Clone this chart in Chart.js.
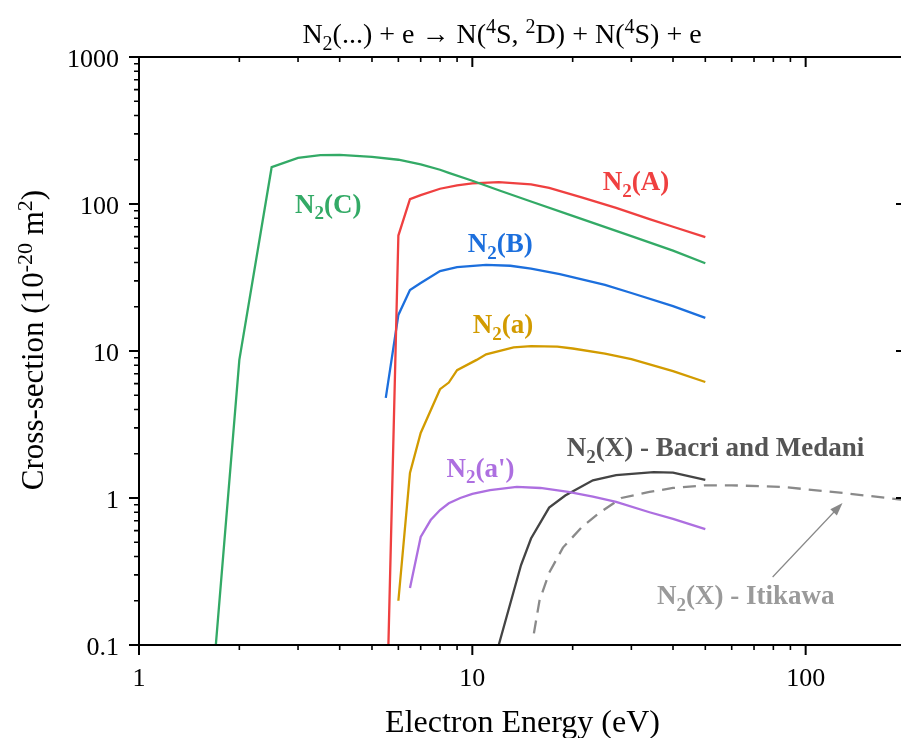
<!DOCTYPE html>
<html>
<head>
<meta charset="utf-8">
<script src="https://cdn.jsdelivr.net/npm/chart.js@4.4.1/dist/chart.umd.min.js"></script>
<style>
    html, body { margin: 0; padding: 0; overflow: hidden; background: #fff; }
    #wrap { width: 910px; height: 738px; }
</style>
</head>
<body>
<div id="wrap"><canvas id="xs-chart" width="910" height="738"></canvas></div>
<script>
// values (energy in eV, cross-section in 1e-20 m^2)
const energyC = [1.7, 2, 2.5, 3, 3.5, 4, 5, 6, 7, 8, 8.5, 10, 12, 15, 20, 30, 40, 50];
const sigmaC = [0.1, 8.7, 178, 206, 215, 216, 209, 200, 186, 171, 163, 144, 124, 104, 83, 60.4, 48.2, 39.5];

const energyA = [5.6, 6, 6.5, 7, 8, 9, 10, 12, 15, 17, 21.4, 27, 34, 40, 50];
const sigmaA = [0.1, 61, 108, 115, 127, 134, 138, 141, 136, 128.5, 110.6, 94, 79, 70, 59.5];

const energyB = [5.5, 6, 6.5, 7, 8, 9, 11, 13, 15, 18.3, 25, 30, 40, 50];
const sigmaB = [4.8, 17.6, 26, 29, 35, 37.2, 38.5, 38, 36.3, 33.4, 28.2, 24.8, 20.2, 16.8];

const energyLa = [6, 6.5, 7, 8, 8.5, 9, 10.3, 11, 13.3, 15, 18, 20, 25, 30, 40, 50];
const sigmaLa = [0.2, 1.48, 2.77, 5.5, 6.1, 7.4, 8.7, 9.5, 10.6, 10.8, 10.7, 10.4, 9.6, 8.8, 7.3, 6.15];

const energyLap = [6.5, 7, 7.5, 8, 8.5, 9.2, 10, 11.3, 13.6, 16, 19.4, 23, 27, 34, 40, 50];
const sigmaLap = [0.244, 0.543, 0.708, 0.828, 0.92, 1.0, 1.065, 1.13, 1.19, 1.17, 1.10, 1.02, 0.94, 0.80, 0.72, 0.615];

const energyXb = [12, 14, 15, 17, 19, 23, 27, 35, 40, 50];
const sigmaXb = [0.1, 0.35, 0.53, 0.86, 1.04, 1.32, 1.43, 1.50, 1.49, 1.33];

const energyXi = [15.3, 15.9, 17, 18.7, 21.4, 24, 28, 34, 40, 50, 60, 85, 130, 190, 200];
const sigmaXi = [0.12, 0.2, 0.31, 0.46, 0.64, 0.79, 1.0, 1.1, 1.17, 1.22, 1.22, 1.19, 1.08, 0.98, 0.97];

const xTickLabels = [1, 10, 100];
const yTickLabels = [0.1, 1, 10, 100, 1000];

const FONT = "'Liberation Serif', 'Times New Roman', serif";

(function () {
    const labelNotes = [
        { parts: [['N'], ['2', 'sub'], ['(C)']], e: 2.94, s: 87, color: '#33aa66' },
        { parts: [['N'], ['2', 'sub'], ['(A)']], e: 24.6, s: 124, color: '#ef4040' },
        { parts: [['N'], ['2', 'sub'], ['(B)']], e: 9.69, s: 47, color: '#1c6fdd' },
        { parts: [['N'], ['2', 'sub'], ['(a)']], e: 10.03, s: 13.2, color: '#d29b00' },
        { parts: [['N'], ['2', 'sub'], ["(a')"]], e: 8.37, s: 1.39, color: '#ad6fe0' },
        { parts: [['N'], ['2', 'sub'], ['(X) - Bacri and Medani']], e: 19.2, s: 1.93, color: '#555555' },
        { parts: [['N'], ['2', 'sub'], ['(X) - Itikawa']], e: 35.8, s: 0.19, color: '#9a9a9a' },
    ];

    const arrowNote = { from: [79.6, 0.29], to: [129, 0.925], color: '#888888' };

    const framePlugin = {
        id: 'frame',
        afterDraw(chart) {
            const ctx = chart.ctx;
            const a = chart.chartArea;
            const xs = chart.scales.x;
            const ys = chart.scales.y;

            ctx.save();
            ctx.textAlign = 'left';
            ctx.textBaseline = 'alphabetic';

            // annotations
            labelNotes.forEach((n) => {
                ctx.fillStyle = n.color;
                drawRich(ctx, n.parts, xs.getPixelForValue(n.e), ys.getPixelForValue(n.s), 27, 'bold', 'left');
            });

            // arrow to the Itikawa curve
            const x0 = xs.getPixelForValue(arrowNote.from[0]);
            const y0 = ys.getPixelForValue(arrowNote.from[1]);
            const x1 = xs.getPixelForValue(arrowNote.to[0]);
            const y1 = ys.getPixelForValue(arrowNote.to[1]);
            const ang = Math.atan2(y1 - y0, x1 - x0);
            ctx.strokeStyle = arrowNote.color;
            ctx.fillStyle = arrowNote.color;
            ctx.lineWidth = 1.2;
            ctx.beginPath();
            ctx.moveTo(x0, y0);
            ctx.lineTo(x1 - 10 * Math.cos(ang), y1 - 10 * Math.sin(ang));
            ctx.stroke();
            ctx.beginPath();
            ctx.moveTo(x1, y1);
            ctx.lineTo(x1 - 13 * Math.cos(ang) + 4.5 * Math.sin(ang), y1 - 13 * Math.sin(ang) - 4.5 * Math.cos(ang));
            ctx.lineTo(x1 - 13 * Math.cos(ang) - 4.5 * Math.sin(ang), y1 - 13 * Math.sin(ang) + 4.5 * Math.cos(ang));
            ctx.closePath();
            ctx.fill();

            // frame
            ctx.strokeStyle = '#000';
            ctx.lineWidth = 2;
            ctx.strokeRect(a.left, a.top, a.right - a.left, a.bottom - a.top);

            // ticks: outward on left/bottom, inward on top/right
            const xMinor = minorValues([1, 10, 100], 200);
            const yMinor = minorValues([0.1, 1, 10, 100], 1000);
            const xtick = (vals, len, width) => {
                ctx.lineWidth = width;
                ctx.beginPath();
                vals.forEach((v) => {
                    const px = xs.getPixelForValue(v);
                    ctx.moveTo(px, a.bottom); ctx.lineTo(px, a.bottom + len);
                    ctx.moveTo(px, a.top); ctx.lineTo(px, a.top + len);
                });
                ctx.stroke();
            };
            const ytick = (vals, len, width) => {
                ctx.lineWidth = width;
                ctx.beginPath();
                vals.forEach((v) => {
                    const py = ys.getPixelForValue(v);
                    ctx.moveTo(a.left, py); ctx.lineTo(a.left - len, py);
                    ctx.moveTo(a.right, py); ctx.lineTo(a.right - len, py);
                });
                ctx.stroke();
            };
            xtick(xTickLabels, 10, 2);
            xtick(xMinor, 5, 1.6);
            ytick(yTickLabels, 10, 2);
            ytick(yMinor, 5, 1.6);

            // tick labels
            ctx.fillStyle = '#000';
            ctx.font = `26px ${FONT}`;
            ctx.textAlign = 'right';
            yTickLabels.forEach((v) => {
                ctx.fillText(String(v), a.left - 20, ys.getPixelForValue(v) + 10);
            });
            ctx.textAlign = 'center';
            xTickLabels.forEach((v) => {
                ctx.fillText(String(v), xs.getPixelForValue(v), a.bottom + 41);
            });

            // titles
            ctx.textAlign = 'left';
            drawRich(ctx, [['Electron Energy (eV)']], (a.left + a.right) / 2, 732, 32, 'normal', 'center');
            drawRich(ctx, [['N'], ['2', 'sub'], ['(...) + e \u2192 N('], ['4', 'sup'], ['S, '], ['2', 'sup'],
                ['D) + N('], ['4', 'sup'], ['S) + e']], 502, 43, 28, 'normal', 'center');

            ctx.translate(43, 340);
            ctx.rotate(-Math.PI / 2);
            drawRich(ctx, [['Cross-section (10'], ['-20', 'sup'], [' m'], ['2', 'sup'], [')']], 0, 0, 31, 'normal', 'center');

            ctx.restore();
        },
    };

    main();

    function main() {
        const datasets = [
            makeSet('N2(C)', energyC, sigmaC, '#33aa66'),
            makeSet('N2(A)', energyA, sigmaA, '#ef4040'),
            makeSet('N2(B)', energyB, sigmaB, '#1c6fdd'),
            makeSet('N2(a)', energyLa, sigmaLa, '#d29b00'),
            makeSet("N2(a')", energyLap, sigmaLap, '#ad6fe0'),
            makeSet('N2(X) Bacri', energyXb, sigmaXb, '#444444'),
            makeSet('N2(X) Itikawa', energyXi, sigmaXi, '#8a8a8a', [13, 8]),
        ];

        new Chart(document.getElementById('xs-chart'), {
            type: 'line',
            data: { datasets: datasets },
            options: {
                responsive: false,
                animation: false,
                layout: { padding: { top: 57, right: 4, left: 0, bottom: 0 } },
                plugins: {
                    legend: { display: false },
                    tooltip: { enabled: false },
                },
                elements: {
                    point: { radius: 0 },
                    line: { borderWidth: 2.3, tension: 0 },
                },
                scales: {
                    x: {
                        type: 'logarithmic', min: 1, max: 200,
                        grid: { display: false }, border: { display: false },
                        ticks: { display: false },
                        afterFit: (s) => { s.height = 93; },
                    },
                    y: {
                        type: 'logarithmic', min: 0.1, max: 1000,
                        grid: { display: false }, border: { display: false },
                        ticks: { display: false },
                        afterFit: (s) => { s.width = 139; },
                    },
                },
            },
            plugins: [framePlugin],
        });
    }

    function makeSet(label, xs, ys, color, dash) {
        return {
            label: label,
            data: xs.map((x, i) => ({ x: x, y: ys[i] })),
            borderColor: color,
            borderDash: dash || [],
            fill: false,
        };
    }

    function minorValues(decades, max) {
        const out = [];
        decades.forEach((d) => {
            for (let k = 2; k <= 9; k++) {
                if (k * d <= max) out.push(k * d);
            }
        });
        return out;
    }

    function drawRich(ctx, parts, x, y, size, weight, align) {
        const base = `${weight} ${size}px ${FONT}`;
        const small = `${weight} ${Math.round(size * 0.7)}px ${FONT}`;
        let width = 0;
        parts.forEach((p) => {
            ctx.font = p[1] ? small : base;
            width += ctx.measureText(p[0]).width;
        });
        let cx = align === 'center' ? x - width / 2 : x;
        parts.forEach((p) => {
            ctx.font = p[1] ? small : base;
            const dy = p[1] === 'sub' ? size * 0.24 : (p[1] === 'sup' ? -size * 0.36 : 0);
            ctx.fillText(p[0], cx, y + dy);
            cx += ctx.measureText(p[0]).width;
        });
    }
})();
</script>
</body>
</html>
